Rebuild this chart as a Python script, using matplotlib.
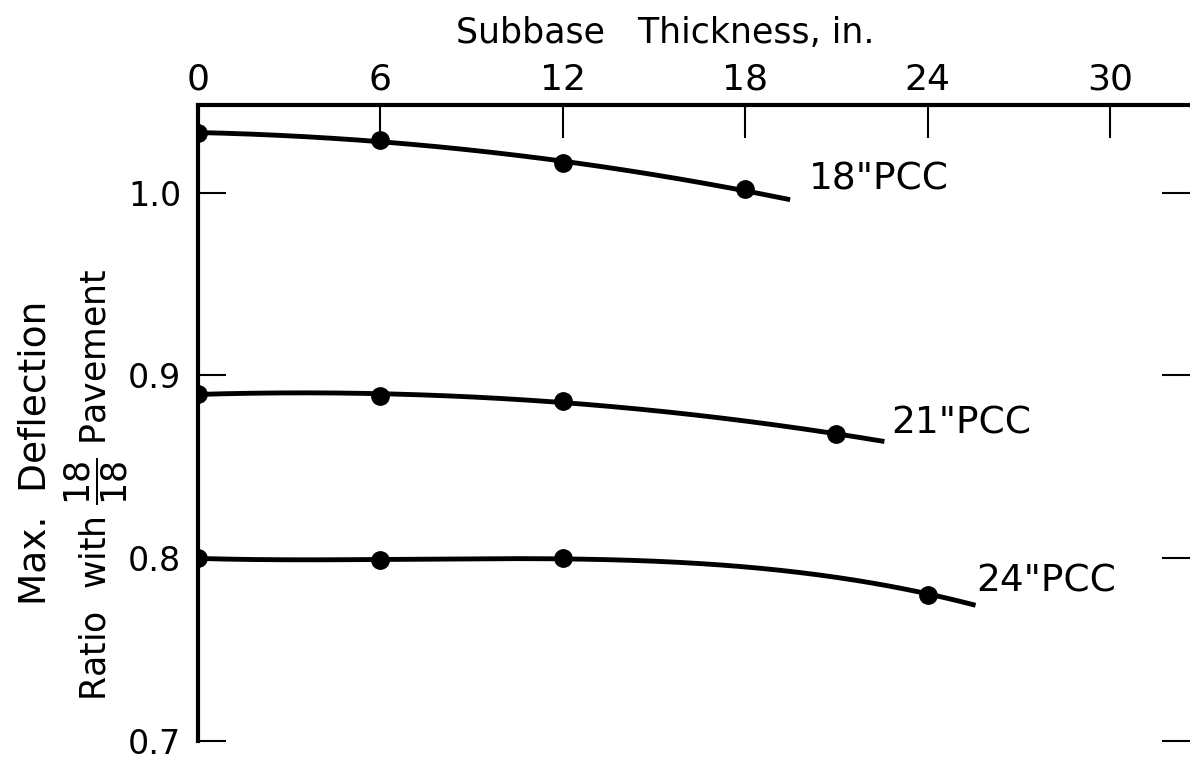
import matplotlib as mpl
mpl.use("agg")
import matplotlib.pyplot as plt
import numpy as np

# subbase thickness (in.) of the plotted points, and the end of each drawn curve
x18 = [0, 6, 12, 18, 19.4]
y18 = [1.0326, 1.029, 1.016, 1.002, 0.996]
x21 = [0, 6, 12, 21, 22.5]
y21 = [0.890, 0.889, 0.886, 0.868, 0.864]
x24 = [0, 6, 12, 24, 25.5]
y24 = [0.800, 0.799, 0.800, 0.780, 0.775]
labels = ["18\"PCC", "21\"PCC", "24\"PCC"]
xticks = [0, 6, 12, 18, 24, 30]
yticks = [0.7, 0.8, 0.9, 1.0]

plt.rcParams['font.family'] = ['DejaVu Sans']

fig = plt.figure(figsize=(11.9, 7.61), dpi=100)
ax = fig.add_axes([198/1190, 1-741/761, (1190-198)/1190, (741-105)/761])

series = [(x18, y18, 2), (x21, y21, 2), (x24, y24, 3)]
lab_pos = [(20.1, 1.007), (22.8, 0.874), (25.6, 0.787)]
for (xs, ys, deg), lab, (lx, ly) in zip(series, labels, lab_pos):
    c = np.polyfit(xs, ys, deg)
    xx = np.linspace(xs[0], xs[-1], 200)
    ax.plot(xx, np.polyval(c, xx), color="black", lw=3.5)
    ax.plot(xs[:-1], ys[:-1], "o", color="black", ms=12.5)
    ax.text(lx, ly, lab, fontsize=27, va="center", ha="left")

ax.set_xlim(0, (1190-198)/30.4)
ax.set_ylim(0.7, 1.048)
ax.xaxis.tick_top()
ax.set_xticks(xticks)
ax.set_xticklabels([str(t) for t in xticks], fontsize=26)
ax.tick_params(axis="x", direction="in", length=24, width=1.5, pad=6)
ax.set_yticks(yticks)
ax.set_yticklabels([f"{t:.1f}" for t in yticks], fontsize=24)
ax.tick_params(axis="y", direction="in", length=20, width=1.5, pad=12,
               right=True)
for s in ["bottom", "right"]:
    ax.spines[s].set_visible(False)
for s in ["top", "left"]:
    ax.spines[s].set_linewidth(3)

fig.text(665/1190, 1-33/761, "Subbase   Thickness, in.", fontsize=25,
         ha="center", va="center")
fig.text(36/1190, 1-453/761, "Max.  Deflection", fontsize=27, rotation=90,
         ha="center", va="center")
fig.text(96/1190, 1-485/761, r"Ratio  with $\dfrac{18}{18}$ Pavement",
         fontsize=25, rotation=90, ha="center", va="center")

fig.savefig("out.png")
